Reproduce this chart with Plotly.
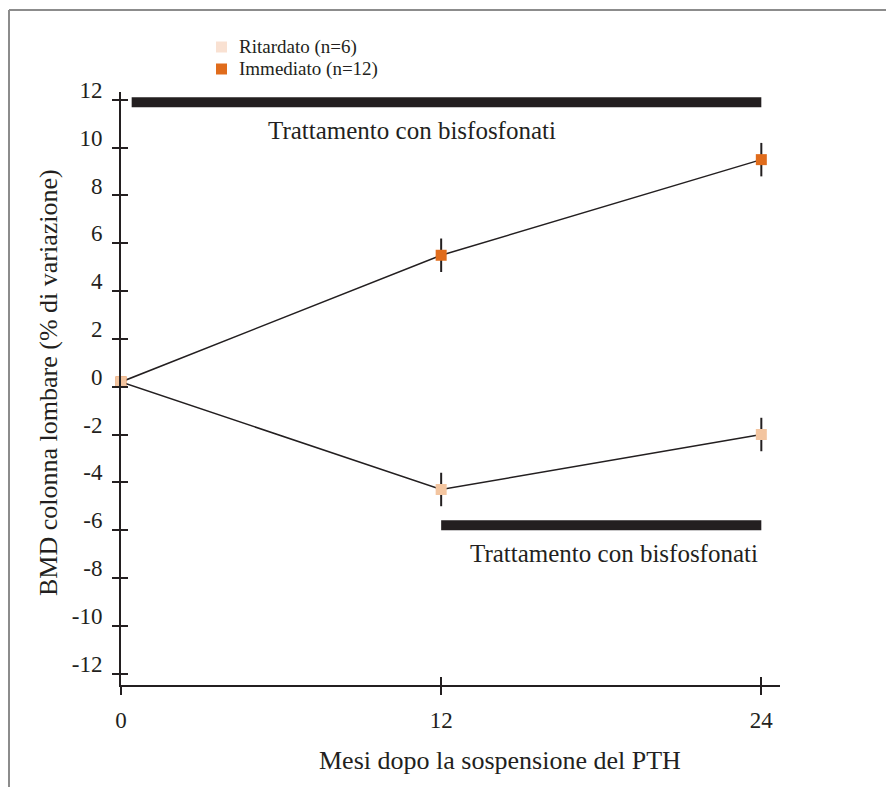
import plotly.graph_objects as go

# ---- data ----
months = [0, 12, 24]
ritardato = [0.2, -4.3, -2.0]
immediato = [0.2, 5.5, 9.5]
ritardato_err = [0, 0.7, 0.7]
immediato_err = [0, 0.7, 0.7]
series_names = ["Ritardato (n=6)", "Immediato (n=12)"]
treat_label = "Trattamento con bisfosfonati"
treat_top_x = [0.4, 24]
treat_top_y = 11.9
treat_bot_x = [12, 24]
treat_bot_y = -5.8
y_ticks = list(range(-12, 13, 2))
x_ticks = [0, 12, 24]
x_title = "Mesi dopo la sospensione del PTH"
y_title = "BMD colonna lombare (% di variazione)"

INK = "#231f20"
C_RIT = "#F3C5A0"
C_RIT_LEG = "#F9E1D2"
C_IMM = "#E06C1C"
FONT = "Liberation Serif"

# layout geometry (figure pixels)
W, H = 886, 779
ML, MR, MT, MB = 113, 114, 84, 102
PW, PH = W - ML - MR, H - MT - MB
OFF = 8  # page body margin


def px(xp):  # page x pixel -> paper
    return (xp - OFF - ML) / PW


def py(yp):  # page y pixel -> paper
    return (H - MB - (yp - OFF)) / PH


fig = go.Figure()

# Immediato first so that the shared starting point shows the Ritardato colour on top
for vals, errs, col in [(immediato, immediato_err, C_IMM), (ritardato, ritardato_err, C_RIT)]:
    fig.add_trace(go.Scatter(
        x=months, y=vals, mode="lines+markers",
        line=dict(color=INK, width=1.5),
        marker=dict(symbol="square", size=11, color=col),
        error_y=dict(type="data", array=errs, visible=True, color=INK, thickness=2, width=0),
        showlegend=False, cliponaxis=False, hoverinfo="x+y"))

# overlay axes carrying inside ticks (ticks cross the axes)
fig.add_trace(go.Scatter(x=[None], y=[None], xaxis="x2", yaxis="y2", showlegend=False))

shapes = [
    dict(type="line", xref="x", yref="y", x0=treat_top_x[0], x1=treat_top_x[1],
         y0=treat_top_y, y1=treat_top_y, line=dict(color=INK, width=10)),
    dict(type="line", xref="x", yref="y", x0=treat_bot_x[0], x1=treat_bot_x[1],
         y0=treat_bot_y, y1=treat_bot_y, line=dict(color=INK, width=10)),
    # frame
    dict(type="line", xref="paper", yref="paper", x0=px(9), x1=px(950), y0=py(10), y1=py(10),
         line=dict(color="#8c8c8c", width=2)),
    dict(type="line", xref="paper", yref="paper", x0=px(9), x1=px(9), y0=py(10), y1=py(850),
         line=dict(color="#8c8c8c", width=2)),
]

annotations = [
    dict(text=treat_label, x=10.9, y=10.7, xref="x", yref="y", showarrow=False,
         xanchor="center", yanchor="middle",
         font=dict(size=25, color=INK, family=FONT)),
    dict(text=treat_label, x=18.48, y=-6.97, xref="x", yref="y", showarrow=False,
         xanchor="center", yanchor="middle",
         font=dict(size=25, color=INK, family=FONT)),
    dict(text=x_title, x=px(500), y=py(760), xref="paper", yref="paper", showarrow=False,
         xanchor="center", yanchor="middle",
         font=dict(size=26, color=INK, family=FONT)),
    dict(text=y_title, x=px(48), y=py(383), xref="paper", yref="paper", showarrow=False,
         xanchor="center", yanchor="middle",
         textangle=-90, font=dict(size=26, color=INK, family=FONT)),
]

# legend (drawn manually to match the compact spacing)
for name, col, yc in [(series_names[0], C_RIT_LEG, 47), (series_names[1], C_IMM, 69)]:
    shapes.append(dict(type="rect", xref="paper", yref="paper",
                       x0=px(216), x1=px(227), y0=py(yc + 5.5), y1=py(yc - 5.5),
                       fillcolor=col, line=dict(width=0)))
    annotations.append(dict(text=name, x=px(237), y=py(yc), xref="paper", yref="paper",
                            showarrow=False, xanchor="left", yanchor="middle",
                            font=dict(size=19, color=INK, family=FONT)))

xr = [0, 24.7]
yr = [-12.48, 12.33]

fig.update_layout(
    width=W, height=H,
    margin=dict(l=ML, r=MR, t=MT, b=MB),
    paper_bgcolor="white", plot_bgcolor="white",
    font=dict(family=FONT, color=INK, size=22),
    shapes=shapes, annotations=annotations, showlegend=False,
    xaxis=dict(range=xr, tickvals=x_ticks, ticktext=[str(v) for v in x_ticks],
               showgrid=False, zeroline=False, showline=True, linecolor=INK, linewidth=2,
               ticks="outside", ticklen=8, tickwidth=2, tickcolor=INK,
               ticklabelstandoff=5, tickfont=dict(size=23)),
    yaxis=dict(range=yr, tickvals=y_ticks, ticktext=[str(v) for v in y_ticks],
               showgrid=False, zeroline=False, showline=True, linecolor=INK, linewidth=2,
               ticks="outside", ticklen=7, tickwidth=2, tickcolor=INK,
               ticklabelstandoff=5, ticklabelshift=-10, tickfont=dict(size=23)),
    xaxis2=dict(range=xr, overlaying="x", anchor="y", tickvals=x_ticks[1:],
                showticklabels=False, showgrid=False, zeroline=False,
                ticks="inside", ticklen=8, tickwidth=2, tickcolor=INK, side="bottom"),
    yaxis2=dict(range=yr, overlaying="y", anchor="x", tickvals=y_ticks,
                showticklabels=False, showgrid=False, zeroline=False,
                ticks="inside", ticklen=7, tickwidth=2, tickcolor=INK, side="left"),
)

fig.write_html("out.html")
